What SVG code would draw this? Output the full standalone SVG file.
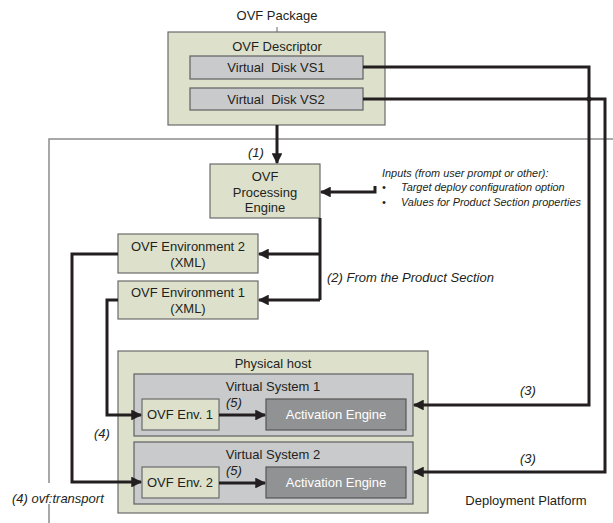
<svg xmlns="http://www.w3.org/2000/svg" width="613" height="523" viewBox="0 0 613 523">
  <style>
    text { font-family: "Liberation Sans", Arial, sans-serif; fill: #231f20; }
    .lbl { font-size: 13px; text-anchor: middle; }
    .it { font-style: italic; font-size: 13px; }
    .small { font-style: italic; font-size: 10.9px; }
    .pre { white-space: pre; }
    .beige { fill: #dde1cc; stroke: #6b6b6b; stroke-width: 1.2; }
    .grey { fill: #c9cacc; stroke: #5f5f5f; stroke-width: 1.2; }
    .dark { fill: #919294; stroke: #555; stroke-width: 1.2; }
    .frame { fill: none; stroke: #8c8c8c; stroke-width: 1.5; }
    .conn { fill: none; stroke: #231f20; stroke-width: 3; }
    .arrow { fill: none; stroke: #231f20; stroke-width: 3; marker-end: url(#head); }
  </style>
  <defs>
    <marker id="head" viewBox="0 0 10 10" refX="9" refY="5" markerWidth="4" markerHeight="3.6" markerUnits="strokeWidth" orient="auto">
      <path d="M0,0 L10,5 L0,10 z" fill="#231f20"/>
    </marker>
  </defs>

  <!-- deployment platform frame -->
  <g id="deployment-platform">
    <path class="frame" d="M613,139 H49 V483"/>
    <path class="frame" d="M49,504 V523"/>
    <text x="526" y="505" class="lbl">Deployment Platform</text>
  </g>

  <!-- OVF package -->
  <g id="ovf-package">
    <text x="277" y="20" class="lbl">OVF Package</text>
    <line x1="277" y1="27" x2="277" y2="32" stroke="#6b6b6b" stroke-width="1"/>
    <rect class="beige" x="168" y="32" width="217" height="93"/>
    <text x="277" y="51" class="lbl">OVF Descriptor</text>
  </g>
  <g id="disk-vs1">
    <rect class="grey" x="190" y="56" width="173" height="23"/>
    <text x="276" y="72" class="lbl pre">Virtual  Disk VS1</text>
  </g>
  <g id="disk-vs2">
    <rect class="grey" x="190" y="88" width="173" height="22"/>
    <text x="276" y="104" class="lbl pre">Virtual  Disk VS2</text>
  </g>

  <!-- processing engine -->
  <g id="processing-engine">
    <rect class="beige" x="210" y="164" width="110" height="54"/>
    <text x="265" y="181" class="lbl">OVF</text>
    <text x="265" y="197" class="lbl">Processing</text>
    <text x="265" y="212" class="lbl">Engine</text>
  </g>

  <g id="inputs">
    <text x="382" y="177" class="small">Inputs (from user prompt or other):</text>
    <text x="382" y="191" class="small" font-style="normal">•</text>
    <text x="401" y="191" class="small">Target deploy configuration option</text>
    <text x="382" y="206" class="small" font-style="normal">•</text>
    <text x="401" y="206" class="small">Values for Product Section properties</text>
  </g>

  <!-- environment documents -->
  <g id="ovf-env-2">
    <rect class="beige" x="118" y="234" width="140" height="39"/>
    <text x="188" y="251" class="lbl">OVF Environment 2</text>
    <text x="188" y="267" class="lbl">(XML)</text>
  </g>
  <g id="ovf-env-1">
    <rect class="beige" x="118" y="281" width="140" height="38"/>
    <text x="188" y="297" class="lbl">OVF Environment 1</text>
    <text x="188" y="313" class="lbl">(XML)</text>
  </g>

  <!-- physical host -->
  <g id="physical-host">
    <rect class="beige" x="118" y="351" width="310" height="162"/>
    <text x="273" y="368" class="lbl">Physical host</text>
  </g>
  <g id="virtual-system-1">
    <rect class="grey" x="134" y="374" width="279" height="62"/>
    <text x="273" y="391" class="lbl">Virtual System 1</text>
  </g>
  <g id="virtual-system-2">
    <rect class="grey" x="134" y="442" width="279" height="62"/>
    <text x="273" y="459" class="lbl">Virtual System 2</text>
  </g>
  <g id="vs1-env">
    <rect class="beige" x="142" y="399" width="77" height="31"/>
    <text x="180" y="419" class="lbl">OVF Env. 1</text>
  </g>
  <g id="vs1-activation">
    <rect class="dark" x="266" y="399" width="140" height="31"/>
    <text x="336" y="419" class="lbl" style="fill:#ffffff">Activation Engine</text>
  </g>
  <g id="vs2-env">
    <rect class="beige" x="142" y="467" width="77" height="31"/>
    <text x="180" y="487" class="lbl">OVF Env. 2</text>
  </g>
  <g id="vs2-activation">
    <rect class="dark" x="266" y="467" width="140" height="31"/>
    <text x="336" y="487" class="lbl" style="fill:#ffffff">Activation Engine</text>
  </g>

  <!-- connectors -->
  <g id="connectors">
    <!-- (1) descriptor to engine -->
    <path class="arrow" d="M277,125 V163"/>
    <!-- inputs to engine -->
    <path class="arrow" d="M375,186 V192 H321"/>
    <!-- (2) engine to environment documents -->
    <path class="conn" d="M320,218 V300"/>
    <path class="arrow" d="M320,254 H259"/>
    <path class="arrow" d="M320,300 H259"/>
    <!-- (3) disks to virtual systems -->
    <path class="arrow" d="M363,67 H589 V405 H414"/>
    <path class="arrow" d="M363,99 H605 V472 H414"/>
    <circle cx="589" cy="99" r="2.5" fill="#231f20"/>
    <!-- (4) transport -->
    <path class="arrow" d="M118,300 H107 V415 H141"/>
    <path class="arrow" d="M118,254 H72 V482 H141"/>
    <!-- (5) env to activation -->
    <path class="arrow" d="M219,415 H265"/>
    <path class="arrow" d="M219,483 H265"/>
  </g>

  <!-- connector labels -->
  <g id="labels">
    <text x="248" y="157" class="it">(1)</text>
    <text x="327" y="282" class="it">(2) From the Product Section</text>
    <text x="520" y="395" class="it">(3)</text>
    <text x="520" y="463" class="it">(3)</text>
    <text x="94" y="438" class="it">(4)</text>
    <text x="12" y="503" class="it">(4) ovf:transport</text>
    <text x="226" y="407" class="it">(5)</text>
    <text x="226" y="475" class="it">(5)</text>
  </g>
</svg>
